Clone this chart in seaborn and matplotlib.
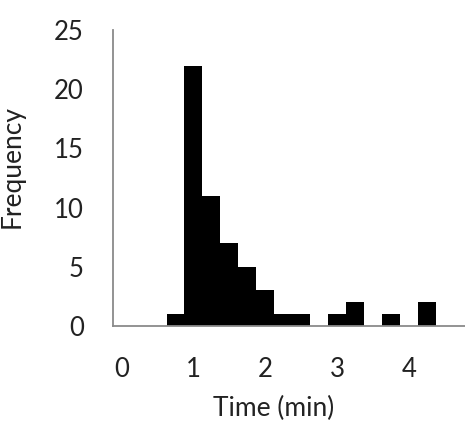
import seaborn as sns
import numpy as np
import pandas as pd
from matplotlib import pyplot as plt

# bin centres (min) and counts
time_min = [0.75, 1.0, 1.25, 1.5, 1.75, 2.0, 2.25, 2.5, 2.75, 3.0, 3.25, 3.5, 3.75, 4.0, 4.25]
frequency = [1, 22, 11, 7, 5, 3, 1, 1, 0, 1, 2, 0, 1, 0, 2]
x_ticks = [0, 1, 2, 3, 4]
y_ticks = [0, 5, 10, 15, 20, 25]

sns.set_theme(style="white")
plt.rcParams['font.family'] = ['Lato', 'DejaVu Sans']

df = pd.DataFrame({'time': time_min, 'count': frequency})

fig = plt.figure(figsize=(4.65, 4.25), dpi=100)
ax = fig.add_axes([0.243, 0.233, 0.757, 0.696])

sns.histplot(data=df, x='time', weights='count', binwidth=0.25,
             binrange=(0.625, 4.375), color='black', alpha=1,
             edgecolor='black', linewidth=0, ax=ax)

ax.set_xlim(-0.12, 4.78)
ax.set_ylim(0, 25)
ax.set_xticks(x_ticks)
ax.set_yticks(y_ticks)
ax.tick_params(axis='x', length=0, pad=22, labelsize=18.5, colors='#222222')
ax.tick_params(axis='y', length=0, pad=21, labelsize=18.5, colors='#222222')

ax.set_xlabel('Time (min)', fontsize=19, color='#222222')
ax.set_ylabel('Frequency', fontsize=19, color='#222222')
ax.xaxis.set_label_coords(0.457, -0.238)
ax.yaxis.set_label_coords(-0.25, 0.54)

sns.despine(ax=ax)
for side in ['left', 'bottom']:
    ax.spines[side].set_color('#8a8a8a')
    ax.spines[side].set_linewidth(1.3)

fig.savefig('out.png', dpi=100)
